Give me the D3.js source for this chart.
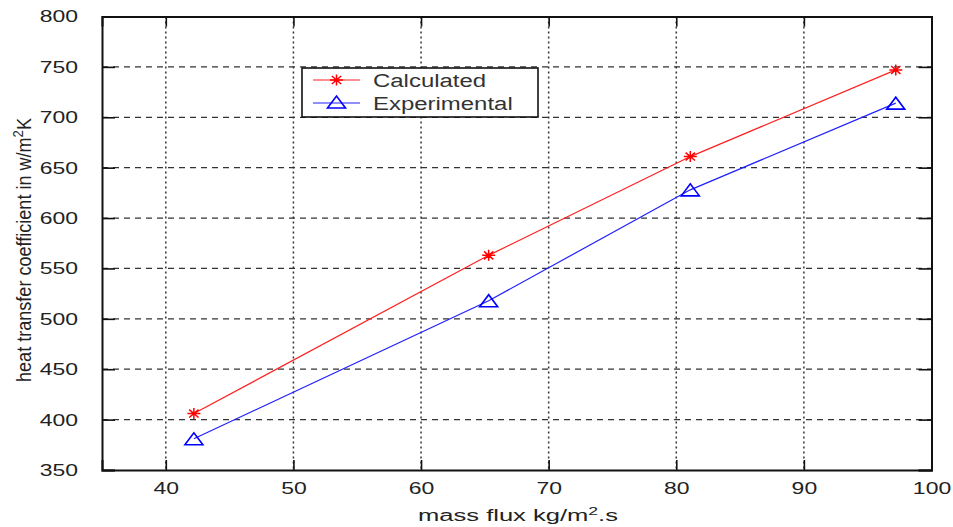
<!DOCTYPE html>
<html>
<head>
<meta charset="utf-8">
<script src="https://cdn.jsdelivr.net/npm/d3@7"></script>
<style>
  html, body { margin: 0; padding: 0; background: #fff; }
  svg { display: block; }
</style>
</head>
<body>
<svg id="chart" width="953" height="527"></svg>
<script>
// ---- data ----
const massFlux = [42.2, 65.3, 81.1, 97.2];
const calculated = [406, 563, 661, 747];
const experimental = [381, 518, 628, 714];
const xTicks = [40, 50, 60, 70, 80, 90, 100];
const yTicks = [350, 400, 450, 500, 550, 600, 650, 700, 750, 800];
const seriesNames = ["Calculated", "Experimental"];

// ---- layout ----
const W = 953, H = 527;
const L = 102, R = 931.5, T = 16.5, B = 470;
const SX = 1.35; // horizontal stretch of the original raster

const svg = d3.select("#chart");
const x = d3.scaleLinear().domain([35, 100]).range([L, R]);
const y = d3.scaleLinear().domain([350, 800]).range([B, T]);

function stretch(sel, f) {
  sel.each(function() {
    const w = this.getComputedTextLength();
    d3.select(this).attr("textLength", w * f).attr("lengthAdjust", "spacingAndGlyphs");
  });
}

// grid
const grid = svg.append("g");
grid.selectAll("line.h").data(yTicks.filter(d => d > 350 && d < 800)).join("line")
  .attr("x1", L).attr("x2", R).attr("y1", d => y(d)).attr("y2", d => y(d))
  .attr("stroke", "#333").attr("stroke-width", 1.3).attr("stroke-dasharray", "6,5");
grid.selectAll("line.v").data(xTicks.filter(d => d < 100)).join("line")
  .attr("x1", d => x(d)).attr("x2", d => x(d)).attr("y1", T).attr("y2", B)
  .attr("stroke", "#333").attr("stroke-width", 1.5).attr("stroke-dasharray", "2,3");

// axes
const axB = svg.append("g").attr("transform", `translate(0,${B})`)
  .call(d3.axisBottom(x).tickValues(xTicks).tickSize(-10).tickPadding(12));
const axT = svg.append("g").attr("transform", `translate(0,${T})`)
  .call(d3.axisTop(x).tickValues(xTicks).tickSize(-10).tickFormat(""));
const axL = svg.append("g").attr("transform", `translate(${L},0)`)
  .call(d3.axisLeft(y).tickValues(yTicks).tickSize(-13).tickPadding(24));
const axR = svg.append("g").attr("transform", `translate(${R},0)`)
  .call(d3.axisRight(y).tickValues(yTicks).tickSize(-13).tickFormat(""));

[axB, axT, axL, axR].forEach(a => {
  a.select(".domain").attr("stroke", "#111").attr("stroke-width", 2);
  a.selectAll(".tick line").attr("stroke", "#111").attr("stroke-width", 1.6);
  a.selectAll(".tick text").attr("fill", "#222")
    .style("font-family", "'Liberation Sans', Arial, sans-serif").style("font-size", "17px");
});
axB.selectAll(".tick text").attr("dy", "0.71em");
stretch(axB.selectAll(".tick text"), SX);
stretch(axL.selectAll(".tick text"), SX);

// lines
const line = d3.line().x((d, i) => x(massFlux[i])).y(d => y(d));
svg.append("path").datum(calculated).attr("d", line)
  .attr("fill", "none").attr("stroke", "#ff2020").attr("stroke-width", 1.2);
svg.append("path").datum(experimental).attr("d", line)
  .attr("fill", "none").attr("stroke", "#2020ff").attr("stroke-width", 1.2);

// markers
function star(g, cx, cy) {
  const rx = 6.5, ry = 5.5;
  const p = `M${cx - rx},${cy}L${cx + rx},${cy}M${cx},${cy - ry}L${cx},${cy + ry}` +
    `M${cx - rx * 0.72},${cy - ry * 0.72}L${cx + rx * 0.72},${cy + ry * 0.72}` +
    `M${cx - rx * 0.72},${cy + ry * 0.72}L${cx + rx * 0.72},${cy - ry * 0.72}`;
  g.append("path").attr("d", p).attr("stroke", "#ff0000").attr("stroke-width", 1.5).attr("fill", "none");
}
function tri(g, cx, cy) {
  const hw = 9, h = 12;
  const p = `M${cx - hw},${cy + h / 2}L${cx + hw},${cy + h / 2}L${cx},${cy - h / 2}Z`;
  g.append("path").attr("d", p).attr("stroke", "#0000ff").attr("stroke-width", 1.6).attr("fill", "none");
}
const mk = svg.append("g");
calculated.forEach((v, i) => star(mk, x(massFlux[i]), y(v)));
experimental.forEach((v, i) => tri(mk, x(massFlux[i]), y(v)));

// legend
const lg = svg.append("g");
lg.append("rect").attr("x", 302).attr("y", 68).attr("width", 236).attr("height", 49)
  .attr("fill", "#fff").attr("stroke", "#111").attr("stroke-width", 1.6);
const legY = [80, 103];
const legColors = ["#ff2020", "#2020ff"];
seriesNames.forEach((n, i) => {
  lg.append("line").attr("x1", 313).attr("x2", 360).attr("y1", legY[i]).attr("y2", legY[i])
    .attr("stroke", legColors[i]).attr("stroke-width", 1.2);
  if (i === 0) star(lg, 336.5, legY[i]); else tri(lg, 336.5, legY[i] - 1);
  lg.append("text").attr("x", 373).attr("y", legY[i] + 6.5).text(n)
    .attr("fill", "#333")
    .style("font-family", "'Liberation Sans', Arial, sans-serif").style("font-size", "18px");
});
stretch(lg.selectAll("text"), 1.33);

// x label
const xl = svg.append("text").attr("x", 518).attr("y", 521).attr("text-anchor", "middle")
  .attr("fill", "#222")
  .style("font-family", "'Liberation Sans', Arial, sans-serif").style("font-size", "16px");
xl.append("tspan").text("mass flux kg/m");
xl.append("tspan").attr("dy", -6).style("font-size", "11px").text("2");
xl.append("tspan").attr("dy", 6).text(".s");
xl.attr("textLength", 200).attr("lengthAdjust", "spacingAndGlyphs");

// y label
const yl = svg.append("g").attr("transform", `translate(31,250) scale(${SX},1) rotate(-90)`);
const yt = yl.append("text").attr("text-anchor", "middle").attr("fill", "#222")
  .style("font-family", "'Liberation Sans Narrow', 'Arial Narrow', sans-serif").style("font-size", "15px")
  .style("font-stretch", "condensed");
yt.append("tspan").text("heat transfer coefficient in w/m");
yt.append("tspan").attr("dy", -6).style("font-size", "11px").text("2");
yt.append("tspan").attr("dy", 6).text("K");
yt.attr("textLength", 264).attr("lengthAdjust", "spacingAndGlyphs");
</script>
</body>
</html>
